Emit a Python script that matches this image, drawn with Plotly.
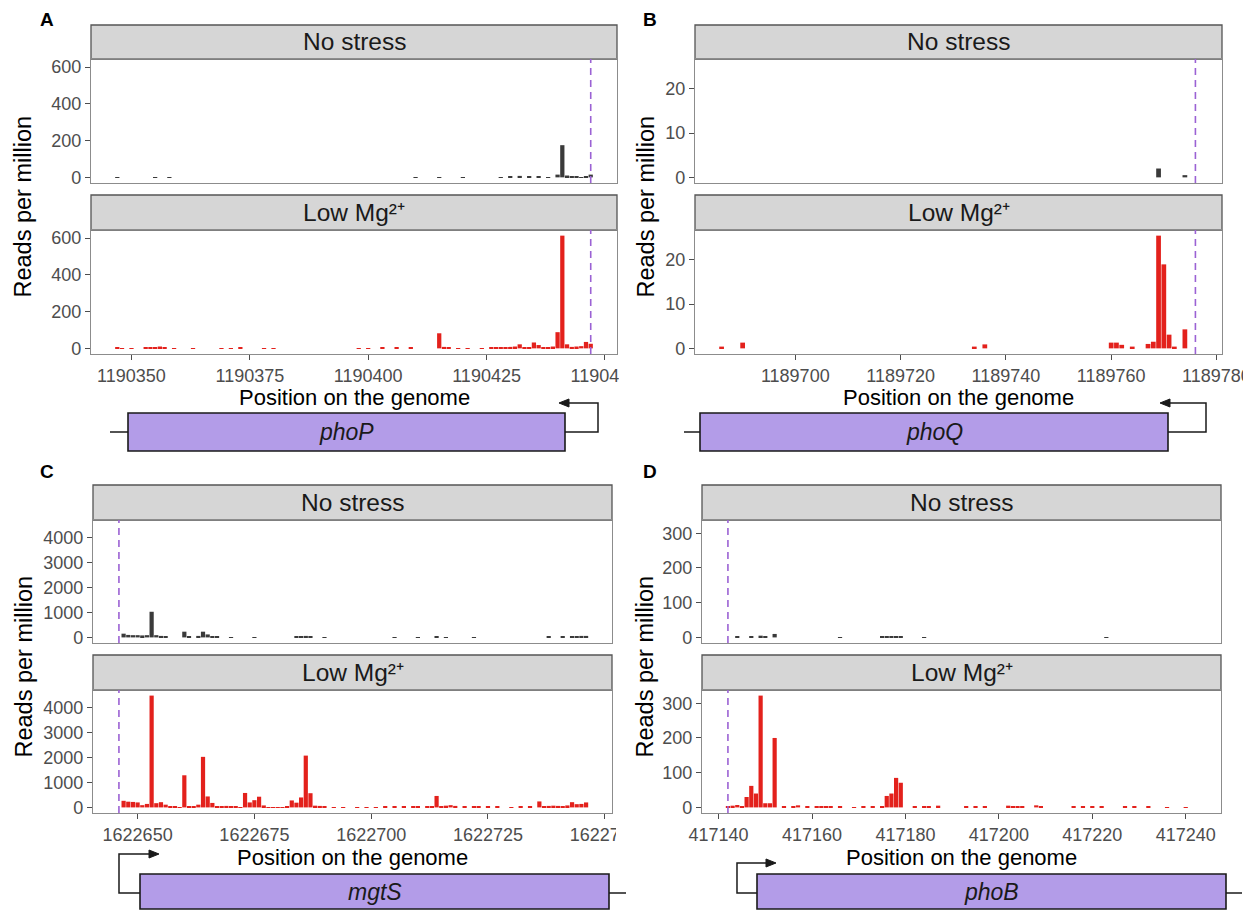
import plotly.graph_objects as go

# page is 1251x911; the html body adds an 8px margin, so the figure is drawn 8px in
PAGE_W, PAGE_H = 1251, 911
OFF = 8
W, H = PAGE_W - OFF, PAGE_H - OFF

# ---------------- data (genome position -> reads per million) ----------------
# Panel A : phoP
A_start, A_end, A_tss = 1190347, 1190447, 1190447
A_no_pos = [1190347, 1190355, 1190358, 1190410, 1190415, 1190420, 1190428, 1190430,
            1190432, 1190434, 1190436, 1190438, 1190440, 1190441, 1190442, 1190443,
            1190444, 1190445, 1190446, 1190447]
A_no_val = [1, 1, 1, 1, 2, 1, 2, 3, 8, 3, 6, 2, 15, 175, 10, 3, 3, 2, 5, 15]
A_low_pos = [1190347, 1190348, 1190350, 1190353, 1190354, 1190355, 1190356, 1190357,
             1190359, 1190363, 1190369, 1190371, 1190373, 1190378, 1190380, 1190398,
             1190400, 1190403, 1190406, 1190409, 1190415, 1190416, 1190417, 1190419,
             1190421, 1190424, 1190426, 1190427, 1190428, 1190429, 1190430, 1190431,
             1190432, 1190433, 1190434, 1190435, 1190436, 1190437, 1190438, 1190439,
             1190440, 1190441, 1190442, 1190443, 1190444, 1190445, 1190446, 1190447]
A_low_val = [3, 2, 2, 4, 5, 7, 10, 4, 2, 2, 2, 2, 3, 2, 2, 2, 2, 3, 4, 5, 82, 8, 4, 2,
             2, 2, 4, 5, 6, 7, 8, 10, 22, 6, 5, 32, 18, 5, 6, 10, 88, 613, 22, 8, 10,
             12, 35, 25]

# Panel B : phoQ
B_start, B_end, B_tss = 1189686, 1189776, 1189776
B_no_pos = [1189769, 1189774]
B_no_val = [2.0, 0.5]
B_low_pos = [1189686, 1189690, 1189734, 1189736, 1189760, 1189761, 1189762, 1189764,
             1189767, 1189768, 1189769, 1189770, 1189771, 1189772, 1189774]
B_low_val = [0.4, 1.3, 0.4, 0.9, 1.3, 1.3, 0.8, 0.4, 1.0, 1.5, 25.5, 19.0, 3.1, 0.4, 4.3]

# Panel C : mgtS
C_start, C_end, C_tss = 1622646, 1622746, 1622646
C_no_pos = [1622647, 1622648, 1622649, 1622650, 1622651, 1622652, 1622653, 1622654,
            1622655, 1622656, 1622660, 1622661, 1622663, 1622664, 1622665, 1622666,
            1622667, 1622670, 1622675, 1622684, 1622685, 1622686, 1622687, 1622690,
            1622705, 1622710, 1622714, 1622716, 1622722, 1622738, 1622741, 1622743,
            1622744, 1622745, 1622746]
C_no_val = [150, 100, 90, 90, 80, 90, 1030, 90, 60, 20, 230, 20, 60, 230, 120, 40,
            20, 10, 10, 20, 30, 60, 30, 10, 10, 10, 20, 10, 10, 20, 30, 50, 50, 60, 60]
C_low_pos = [1622647, 1622648, 1622649, 1622650, 1622651, 1622652, 1622653, 1622654,
             1622655, 1622656, 1622657, 1622658, 1622659, 1622660, 1622661, 1622662,
             1622663, 1622664, 1622665, 1622666, 1622667, 1622668, 1622669, 1622670,
             1622671, 1622672, 1622673, 1622674, 1622675, 1622676, 1622677, 1622678,
             1622679, 1622680, 1622681, 1622682, 1622683, 1622684, 1622685, 1622686,
             1622687, 1622688, 1622689, 1622690, 1622692, 1622694, 1622697, 1622699,
             1622701, 1622703, 1622705, 1622707, 1622709, 1622710, 1622712, 1622713,
             1622714, 1622715, 1622716, 1622717, 1622718, 1622720, 1622722, 1622723,
             1622725, 1622727, 1622730, 1622732, 1622734, 1622736, 1622737, 1622738,
             1622739, 1622740, 1622741, 1622742, 1622743, 1622744, 1622745, 1622746]
C_low_val = [265, 230, 220, 200, 90, 140, 4490, 170, 210, 110, 40, 20, 15, 1290, 30, 40,
             110, 2030, 440, 180, 50, 40, 60, 50, 20, 15, 580, 200, 290, 430, 80, 15,
             10, 10, 15, 20, 280, 190, 400, 2080, 570, 70, 60, 50, 15, 10, 15, 10,
             15, 20, 40, 20, 30, 40, 50, 30, 460, 40, 70, 90, 60, 30, 40, 40,
             30, 20, 15, 20, 20, 240, 30, 60, 70, 60, 40, 80, 210, 130, 140, 200]

# Panel D : phoB
D_start, D_end, D_tss = 417142, 417242, 417142
D_no_pos = [417144, 417147, 417149, 417150, 417152, 417166, 417175, 417176, 417177,
            417178, 417179, 417184, 417223]
D_no_val = [4, 2, 5, 3, 10, 1, 2, 2, 3, 4, 2, 1, 1]
D_low_pos = [417142, 417143, 417144, 417145, 417146, 417147, 417148, 417149, 417150,
             417151, 417152, 417154, 417156, 417157, 417159, 417161, 417162, 417163,
             417164, 417166, 417169, 417171, 417173, 417175, 417176, 417177, 417178,
             417179, 417182, 417184, 417185, 417187, 417193, 417195, 417197, 417202,
             417203, 417204, 417205, 417208, 417209, 417216, 417218, 417220, 417222,
             417227, 417229, 417232, 417236, 417240]
D_low_val = [4, 5, 7, 3, 30, 62, 40, 322, 12, 12, 200, 2, 2, 6, 2, 2, 3, 3, 2, 3, 1,
             2, 2, 4, 33, 40, 85, 71, 2, 2, 2, 5, 2, 2, 2, 5, 3, 3, 3, 6, 3, 2, 2,
             2, 3, 2, 2, 4, 1, 1]

conditions = ["No stress", "Low Mg²⁺"]
genes = ["phoP", "phoQ", "mgtS", "phoB"]
panel_letters = ["A", "B", "C", "D"]
x_dticks = [25, 20, 25, 20]
x_tick0 = [1190350, 1189700, 1622650, 417140]

# ---------------- styling / geometry (page pixels) ----------------
RED = "#E3211C"
DARK = "#3A3A3A"
TSS_COL = "#9B62D4"
GENE_FILL = "#B39CE8"
FONT = "Liberation Sans, Arial, Helvetica, sans-serif"

panels = [
    dict(start=A_start, end=A_end, tss=A_tss, no=(A_no_pos, A_no_val), low=(A_low_pos, A_low_val),
         x0=91, x1=617, strips=[(25, 59), (195, 230)], plots=[(59, 183), (230, 354)],
         letter=(47, 19), ytitle_x=23, xtitle_y=397, crop=(619, 360, 652, 388)),
    dict(start=B_start, end=B_end, tss=B_tss, no=(B_no_pos, B_no_val), low=(B_low_pos, B_low_val),
         x0=695, x1=1222, strips=[(25, 59), (195, 230)], plots=[(59, 183), (230, 354)],
         letter=(650, 19), ytitle_x=646, xtitle_y=397, crop=None),
    dict(start=C_start, end=C_end, tss=C_tss, no=(C_no_pos, C_no_val), low=(C_low_pos, C_low_val),
         x0=93, x1=612, strips=[(485, 520), (655, 690)], plots=[(520, 643), (690, 813)],
         letter=(47, 471), ytitle_x=23, xtitle_y=857, crop=(616, 820, 652, 847)),
    dict(start=D_start, end=D_end, tss=D_tss, no=(D_no_pos, D_no_val), low=(D_low_pos, D_low_val),
         x0=702, x1=1221, strips=[(485, 520), (655, 690)], plots=[(520, 643), (690, 813)],
         letter=(650, 471), ytitle_x=644, xtitle_y=857, crop=None),
]

# gene diagrams: box (x0,x1,y0,y1), promoter path, arrow tip, flank line
genes_geo = [
    dict(box=(128, 565, 413, 451), prom=[(565, 432), (598, 432), (598, 403), (568, 403)],
         tip=(559, 403), dir=-1, flank=[(110, 432), (128, 432)]),
    dict(box=(700, 1168, 413, 451), prom=[(1168, 432), (1206, 432), (1206, 403), (1169, 403)],
         tip=(1160, 403), dir=-1, flank=[(684, 432), (700, 432)]),
    dict(box=(140, 609, 874, 909), prom=[(140, 893), (119, 893), (119, 854), (150, 854)],
         tip=(159, 854), dir=1, flank=[(609, 893), (626, 893)]),
    dict(box=(757, 1226, 874, 909), prom=[(757, 893), (737, 893), (737, 863), (767, 863)],
         tip=(776, 863), dir=1, flank=[(1226, 893), (1242, 893)]),
]


def fx(x):
    return (x - OFF) / W


def fy(y):
    return 1 - (y - OFF) / H


fig = go.Figure()
layout = {}
shapes = []
annotations = []

for i, p in enumerate(panels):
    lo = p["start"] - 0.5
    hi = p["end"] + 0.5
    span = hi - lo
    xr = [lo - 0.05 * span, hi + 0.05 * span]
    ymax = max(max(p["no"][1]), max(p["low"][1]))
    yr = [-0.05 * ymax, 1.05 * ymax]

    for j, (series, color) in enumerate([(p["no"], DARK), (p["low"], RED)]):
        n = 2 * i + j + 1
        xa = "x" if n == 1 else f"x{n}"
        ya = "y" if n == 1 else f"y{n}"
        xkey = "xaxis" if n == 1 else f"xaxis{n}"
        ykey = "yaxis" if n == 1 else f"yaxis{n}"
        fig.add_trace(go.Bar(x=series[0], y=series[1], width=0.9,
                             marker=dict(color=color, line=dict(width=0)),
                             xaxis=xa, yaxis=ya, showlegend=False))
        ptop, pbot = p["plots"][j]
        bottom = (j == 1)
        layout[xkey] = dict(domain=[fx(p["x0"]), fx(p["x1"])], range=xr, anchor=ya,
                            automargin=False,
                            showgrid=False, zeroline=False, showline=True, mirror=True,
                            linecolor="#8C8C8C", linewidth=1.3,
                            ticks="outside" if bottom else "", ticklen=5, tickwidth=1,
                            tickcolor="#4D4D4D", showticklabels=bottom,
                            tickmode="linear", tick0=x_tick0[i], dtick=x_dticks[i],
                            tickformat="d",
                            tickfont=dict(family=FONT, size=18, color="#4D4D4D"))
        layout[ykey] = dict(domain=[fy(pbot), fy(ptop)], range=yr, anchor=xa,
                            automargin=False,
                            showgrid=False, zeroline=False, showline=True, mirror=True,
                            linecolor="#8C8C8C", linewidth=1.3,
                            ticks="outside", ticklen=5, tickwidth=1, tickcolor="#4D4D4D",
                            tickformat="d",
                            tickfont=dict(family=FONT, size=18, color="#4D4D4D"))
        # TSS dashed line
        shapes.append(dict(type="line", xref=xa, yref=f"{ya} domain",
                           x0=p["tss"], x1=p["tss"], y0=0, y1=1,
                           line=dict(color=TSS_COL, width=1.6, dash="7px,5px"), layer="above"))
        # strip
        st, sb = p["strips"][j]
        shapes.append(dict(type="rect", xref="paper", yref="paper",
                           x0=fx(p["x0"]), x1=fx(p["x1"]), y0=fy(sb), y1=fy(st),
                           fillcolor="#D6D6D6", line=dict(color="#555555", width=1.3),
                           layer="below"))
        annotations.append(dict(text=conditions[j], xref="paper", yref="paper",
                                x=fx((p["x0"] + p["x1"]) / 2), y=fy((st + sb) / 2),
                                showarrow=False, xanchor="center", yanchor="middle",
                                font=dict(family=FONT, size=24.5, color="#1A1A1A")))

    # the original sub-figure is cropped just right of its last x tick label
    if p["crop"] is not None:
        cx0, cy0, cx1, cy1 = p["crop"]
        shapes.append(dict(type="rect", xref="paper", yref="paper",
                           x0=fx(cx0), x1=fx(cx1), y0=fy(cy1), y1=fy(cy0),
                           fillcolor="white", line=dict(width=0), layer="above"))

    # panel letter
    annotations.append(dict(text=f"<b>{panel_letters[i]}</b>", xref="paper", yref="paper",
                            x=fx(p["letter"][0]), y=fy(p["letter"][1]), showarrow=False,
                            xanchor="center", yanchor="middle",
                            font=dict(family=FONT, size=19, color="black")))
    # y title
    yc = (p["plots"][0][0] + p["plots"][1][1]) / 2
    annotations.append(dict(text="Reads per million", xref="paper", yref="paper",
                            x=fx(p["ytitle_x"]), y=fy(yc), textangle=-90, showarrow=False,
                            xanchor="center", yanchor="middle",
                            font=dict(family=FONT, size=23.5, color="black")))
    # x title
    annotations.append(dict(text="Position on the genome", xref="paper", yref="paper",
                            x=fx((p["x0"] + p["x1"]) / 2), y=fy(p["xtitle_y"]), showarrow=False,
                            xanchor="center", yanchor="middle",
                            font=dict(family=FONT, size=22, color="black")))

    # gene diagram
    g = genes_geo[i]
    bx0, bx1, by0, by1 = g["box"]
    fl = g["flank"]
    shapes.append(dict(type="line", xref="paper", yref="paper",
                       x0=fx(fl[0][0]), y0=fy(fl[0][1]), x1=fx(fl[1][0]), y1=fy(fl[1][1]),
                       line=dict(color="#1A1A1A", width=1.5)))
    shapes.append(dict(type="rect", xref="paper", yref="paper",
                       x0=fx(bx0), x1=fx(bx1), y0=fy(by1), y1=fy(by0),
                       fillcolor=GENE_FILL, line=dict(color="#1A1A1A", width=1.6)))
    path = "M " + " L ".join(f"{fx(a):.5f},{fy(b):.5f}" for a, b in g["prom"])
    shapes.append(dict(type="path", xref="paper", yref="paper", path=path,
                       line=dict(color="#1A1A1A", width=1.5)))
    tx, ty = g["tip"]
    d = g["dir"]
    head = (f"M {fx(tx):.5f},{fy(ty):.5f} L {fx(tx - d * 10):.5f},{fy(ty - 4):.5f} "
            f"L {fx(tx - d * 10):.5f},{fy(ty + 4):.5f} Z")
    shapes.append(dict(type="path", xref="paper", yref="paper", path=head,
                       fillcolor="#1A1A1A", line=dict(color="#1A1A1A", width=1)))
    annotations.append(dict(text=f"<i>{genes[i]}</i>", xref="paper", yref="paper",
                            x=fx((bx0 + bx1) / 2), y=fy((by0 + by1) / 2), showarrow=False,
                            xanchor="center", yanchor="middle",
                            font=dict(family=FONT, size=23, color="#1A1A1A")))

fig.update_layout(**layout)
fig.update_layout(width=W, height=H,
                  margin=dict(l=0, r=0, t=0, b=0, pad=0, autoexpand=False),
                  paper_bgcolor="white", plot_bgcolor="white",
                  shapes=shapes, annotations=annotations, barmode="overlay",
                  showlegend=False)

fig.write_html("out.html")
